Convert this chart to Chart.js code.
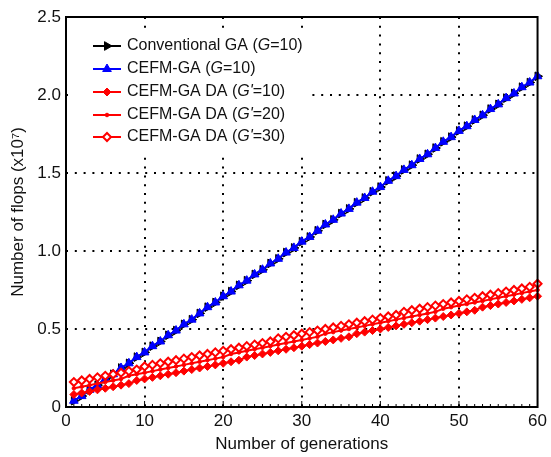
<!DOCTYPE html>
<html>
<head>
<meta charset="utf-8">
<script src="https://cdn.jsdelivr.net/npm/chart.js@4.4.0/dist/chart.umd.min.js"></script>
<style>
  html, body { margin: 0; padding: 0; background: #fff; }
  #wrap { width: 551px; height: 457px; }
</style>
</head>
<body>
<div id="wrap"><canvas id="flops"></canvas></div>
<script>
// generations 1..60
var generations = [];
for (var g = 1; g <= 60; g++) generations.push(g);

// values in units of 10^7 flops
var conventionalGA = [0.04,0.07,0.11,0.14,0.18,0.21,0.25,0.28,0.32,0.35,0.39,0.42,0.46,0.49,0.53,0.56,0.60,0.64,0.67,0.71,
  0.74,0.78,0.81,0.85,0.88,0.92,0.95,0.99,1.02,1.06,1.09,1.13,1.17,1.20,1.24,1.27,1.31,1.34,1.38,1.41,
  1.45,1.48,1.52,1.55,1.59,1.62,1.66,1.70,1.73,1.77,1.80,1.84,1.87,1.91,1.94,1.98,2.01,2.05,2.08,2.12];
var cefmGA = [0.04,0.07,0.11,0.14,0.18,0.21,0.25,0.28,0.32,0.35,0.39,0.42,0.46,0.49,0.53,0.56,0.60,0.64,0.67,0.71,
  0.74,0.78,0.81,0.85,0.88,0.92,0.95,0.99,1.02,1.06,1.09,1.13,1.17,1.20,1.24,1.27,1.31,1.34,1.38,1.41,
  1.45,1.48,1.52,1.55,1.59,1.62,1.66,1.70,1.73,1.77,1.80,1.84,1.87,1.91,1.94,1.98,2.01,2.05,2.08,2.12];
var cefmDA10 = [0.08,0.09,0.10,0.11,0.12,0.13,0.14,0.15,0.17,0.18,0.19,0.20,0.21,0.22,0.23,0.24,0.25,0.26,0.27,0.28,
  0.29,0.30,0.32,0.33,0.34,0.35,0.36,0.37,0.38,0.39,0.40,0.41,0.42,0.43,0.44,0.45,0.47,0.48,0.49,0.50,
  0.51,0.52,0.53,0.54,0.55,0.56,0.57,0.58,0.59,0.60,0.61,0.62,0.64,0.65,0.66,0.67,0.68,0.69,0.70,0.71];
var cefmDA20 = [0.12,0.13,0.14,0.15,0.16,0.17,0.18,0.20,0.21,0.22,0.23,0.24,0.25,0.26,0.27,0.28,0.29,0.30,0.31,0.32,
  0.34,0.35,0.36,0.37,0.38,0.39,0.40,0.41,0.42,0.43,0.44,0.45,0.47,0.48,0.49,0.50,0.51,0.52,0.53,0.54,
  0.55,0.56,0.57,0.58,0.59,0.60,0.61,0.63,0.64,0.65,0.66,0.67,0.68,0.69,0.70,0.71,0.72,0.73,0.74,0.75];
var cefmDA30 = [0.16,0.17,0.18,0.19,0.20,0.21,0.22,0.23,0.24,0.26,0.27,0.28,0.29,0.30,0.31,0.32,0.33,0.34,0.35,0.36,
  0.37,0.38,0.39,0.40,0.41,0.42,0.44,0.45,0.46,0.47,0.48,0.49,0.50,0.51,0.52,0.53,0.54,0.55,0.56,0.57,
  0.58,0.59,0.61,0.62,0.63,0.64,0.65,0.66,0.67,0.68,0.69,0.70,0.71,0.72,0.73,0.74,0.75,0.76,0.77,0.79];

var xTicks = [0, 10, 20, 30, 40, 50, 60];
var yTicks = [0, 0.5, 1.0, 1.5, 2.0, 2.5];

// legend text: [normal, italic, normal]
var legendLabels = [
  ["Conventional GA (", "G", "=10)"],
  ["CEFM-GA (", "G", "=10)"],
  ["CEFM-GA DA (", "G'", "=10)"],
  ["CEFM-GA DA (", "G'", "=20)"],
  ["CEFM-GA DA (", "G'", "=30)"]
];

var FONT = "'Liberation Sans', Arial, sans-serif";

function pts(arr) {
  return arr.map(function (v, i) { return { x: generations[i], y: v }; });
}

var datasets = [
  { label: "conv", data: pts(conventionalGA), borderColor: "#000", backgroundColor: "#000",
    pointStyle: "triangle", rotation: 90, pointRadius: 5, pointBorderWidth: 1, borderWidth: 2, order: 5 },
  { label: "cefm", data: pts(cefmGA), borderColor: "#0000ff", backgroundColor: "#0000ff",
    pointStyle: "triangle", pointRadius: 5, pointBorderWidth: 1, borderWidth: 2, order: 4 },
  { label: "da10", data: pts(cefmDA10), borderColor: "#ff0000", backgroundColor: "#ff0000",
    pointStyle: "rectRot", pointRadius: 4, pointBorderWidth: 1, borderWidth: 2, order: 3 },
  { label: "da20", data: pts(cefmDA20), borderColor: "#ff0000", backgroundColor: "#ff0000",
    pointStyle: "circle", pointRadius: 1.8, pointBorderWidth: 1, borderWidth: 2, order: 2 },
  { label: "da30", data: pts(cefmDA30), borderColor: "#ff0000", backgroundColor: "#ffffff",
    pointStyle: "rectRot", pointRadius: 4, pointBorderWidth: 2, borderWidth: 2, order: 1 }
];

// frame, inward ticks and the legend box
var framePlugin = {
  id: "frame",
  afterDraw: function (chart) {
    var ctx = chart.ctx, a = chart.chartArea;
    var xs = chart.scales.x;
    ctx.save();
    ctx.strokeStyle = "#000";
    ctx.lineWidth = 1;
    // small ticks on the x axis
    for (var i = 0; i <= 60; i++) {
      var px = xs.getPixelForValue(i);
      var len = (i % 10 === 0) ? 6 : 3;
      ctx.beginPath();
      ctx.moveTo(px, a.bottom); ctx.lineTo(px, a.bottom - len);
      ctx.stroke();
    }
    ctx.lineWidth = 2;
    ctx.strokeRect(a.left, a.top, a.right - a.left, a.bottom - a.top);

    // legend
    ctx.fillStyle = "#fff";
    ctx.fillRect(a.left + 4, a.top + 12, 238, 124);
    var rowY = [46, 69, 92, 115, 137];
    ctx.textBaseline = "middle";
    for (var k = 0; k < legendLabels.length; k++) {
      var ds = datasets[k], y = rowY[k];
      ctx.strokeStyle = ds.borderColor;
      ctx.lineWidth = 2;
      ctx.beginPath();
      ctx.moveTo(93, y); ctx.lineTo(121, y);
      ctx.stroke();
      ctx.lineWidth = ds.pointBorderWidth;
      ctx.fillStyle = ds.backgroundColor;
      Chart.helpers.drawPoint(ctx, {
        pointStyle: ds.pointStyle, radius: ds.pointRadius, rotation: ds.rotation || 0,
        borderWidth: ds.pointBorderWidth
      }, 107, y);
      var parts = legendLabels[k], tx = 127;
      ctx.fillStyle = "#111";
      for (var p = 0; p < parts.length; p++) {
        ctx.font = (p === 1 ? "italic " : "") + "16px " + FONT;
        ctx.fillText(parts[p], tx, y);
        tx += ctx.measureText(parts[p]).width;
      }
    }
    ctx.restore();
  }
};

var tickFont = { family: FONT, size: 17 };

new Chart(document.getElementById("flops"), {
  type: "line",
  data: { datasets: datasets },
  plugins: [framePlugin],
  options: {
    responsive: true,
    maintainAspectRatio: false,
    animation: false,
    layout: { padding: { top: 17, right: 11, left: 0, bottom: 0 } },
    plugins: { legend: { display: false }, tooltip: { enabled: false } },
    elements: { line: { tension: 0 } },
    datasets: { line: { clip: false } },
    scales: {
      x: {
        type: "linear", min: 0, max: 60,
        afterFit: function (s) { s.height = 50; },
        afterBuildTicks: function (s) { s.ticks = xTicks.map(function (v) { return { value: v }; }); },
        border: { display: false, dash: [2, 6.8] },
        grid: {
          drawTicks: false, lineWidth: 2,
          color: function (c) { return (c.tick.value === 0 || c.tick.value === 60) ? "rgba(0,0,0,0)" : "#000"; }
        },
        ticks: { color: "#111", font: tickFont, padding: 4, maxRotation: 0 },
        title: { display: true, text: "Number of generations", color: "#111", font: tickFont, padding: { top: 0, bottom: 2 } }
      },
      y: {
        type: "linear", min: 0, max: 2.5,
        afterFit: function (s) { s.width = 66; },
        afterBuildTicks: function (s) { s.ticks = yTicks.map(function (v) { return { value: v }; }); },
        border: { display: false, dash: [2, 6.8] },
        grid: {
          drawTicks: false, lineWidth: 2,
          color: function (c) { return (c.tick.value === 0 || c.tick.value === 2.5) ? "rgba(0,0,0,0)" : "#000"; }
        },
        ticks: {
          color: "#111", font: tickFont, padding: 5,
          callback: function (v) { return v === 0 ? "0" : v.toFixed(1); }
        },
        title: { display: true, text: "Number of flops (x10\u2077)", color: "#111", font: tickFont, padding: { top: 8, bottom: 4 } }
      }
    }
  }
});
</script>
</body>
</html>
